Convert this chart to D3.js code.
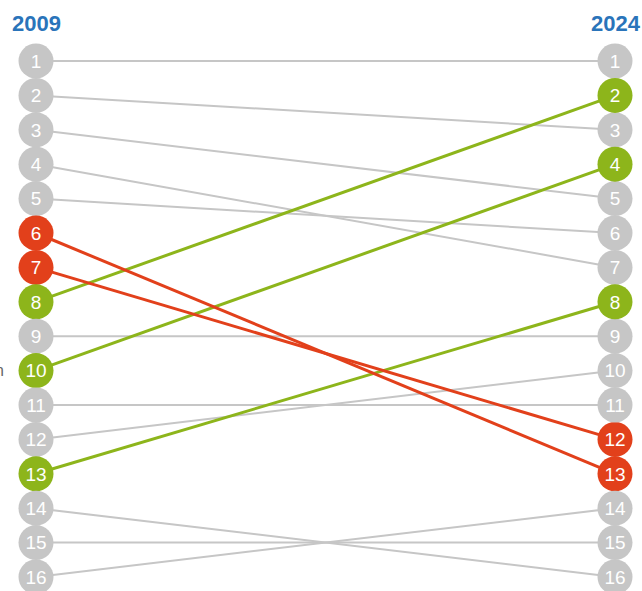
<!DOCTYPE html>
<html>
<head>
<meta charset="utf-8">
<script src="https://cdn.jsdelivr.net/npm/d3@7"></script>
<style>
  body { margin: 0; background: #fff; }
  svg { display: block; font-family: "Liberation Sans", Arial, sans-serif; }
</style>
</head>
<body>
<div id="chart"></div>
<script>
// ranks in 2009 and the rank each reached in 2024
const rank2009 = [1, 2, 3, 4, 5, 6, 7, 8, 9, 10, 11, 12, 13, 14, 15, 16];
const rank2024 = [1, 3, 5, 7, 6, 13, 12, 2, 9, 4, 11, 10, 8, 16, 15, 14];
const moves = ['same', 'same', 'same', 'same', 'same', 'down', 'down', 'up', 'same', 'up', 'same', 'same', 'up', 'same', 'same', 'same'];
const years = ['2009', '2024'];

const width = 642,
  height = 591;

const color = d3.scaleOrdinal()
    .domain(['same', 'up', 'down'])
    .range(['#c6c6c6', '#8db51b', '#e2401b']);

const x = d3.scalePoint()
    .domain(years)
    .range([36, 615]);

const y = d3.scaleLinear()
    .domain([1, 16])
    .range([61, 577]);

const data = rank2009.map((r, i) => ({ from: r, to: rank2024[i], move: moves[i] }));

const svg = d3.select('#chart').append('svg')
    .attr('width', width)
    .attr('height', height);

// year headers
svg.append('text')
    .attr('x', 12)
    .attr('y', 31)
    .attr('fill', '#2a74ba')
    .attr('font-size', 22)
    .attr('font-weight', 'bold')
    .text(years[0]);

svg.append('text')
    .attr('x', 640)
    .attr('y', 31)
    .attr('text-anchor', 'end')
    .attr('fill', '#2a74ba')
    .attr('font-size', 22)
    .attr('font-weight', 'bold')
    .text(years[1]);

// cut-off label at the left edge
svg.append('text')
    .attr('x', 4)
    .attr('y', y(10) + 5)
    .attr('text-anchor', 'end')
    .attr('fill', '#666')
    .attr('font-size', 16)
    .text('n');

// gray lines first, coloured ones on top
const order = data.slice().sort((a, b) => (a.move === 'same') - (b.move === 'same')).reverse();

svg.append('g').selectAll('line')
    .data(order)
  .enter().append('line')
    .attr('x1', x(years[0]))
    .attr('y1', (d) => y(d.from))
    .attr('x2', x(years[1]))
    .attr('y2', (d) => y(d.to))
    .attr('stroke', (d) => color(d.move))
    .attr('stroke-width', (d) => (d.move === 'same' ? 2 : 3));

function column(year, key) {
  const g = svg.append('g').selectAll('g')
      .data(data)
    .enter().append('g')
      .attr('transform', (d) => `translate(${x(year)},${y(d[key])})`);

  g.append('circle')
      .attr('r', 17.5)
      .attr('fill', (d) => color(d.move));

  g.append('text')
      .attr('text-anchor', 'middle')
      .attr('dy', '0.36em')
      .attr('fill', '#fff')
      .attr('font-size', 19)
      .text((d) => d[key]);
}

column(years[0], 'from');
column(years[1], 'to');
</script>
</body>
</html>
